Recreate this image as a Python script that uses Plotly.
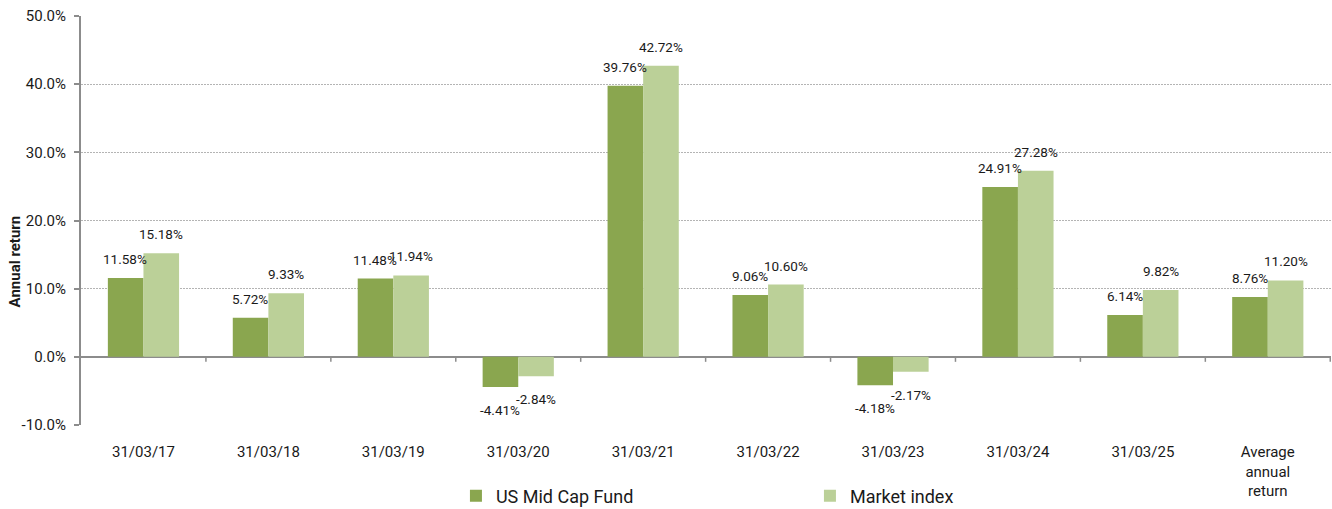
import plotly.graph_objects as go

categories = ["31/03/17", "31/03/18", "31/03/19", "31/03/20", "31/03/21",
              "31/03/22", "31/03/23", "31/03/24", "31/03/25",
              "Average<br>annual<br>return"]
fund_values = [11.58, 5.72, 11.48, -4.41, 39.76, 9.06, -4.18, 24.91, 6.14, 8.76]
index_values = [15.18, 9.33, 11.94, -2.84, 42.72, 10.60, -2.17, 27.28, 9.82, 11.20]
series_names = ["US Mid Cap Fund", "Market index"]
y_ticks = [-10, 0, 10, 20, 30, 40, 50]
y_title = "Annual return"

FUND_COLOR = "#8aa64f"
INDEX_COLOR = "#bbd098"
AXIS_COLOR = "#8c8c8c"
FONT = "Roboto, Arial, sans-serif"
TEXT_COLOR = "#1a1a1a"

fig = go.Figure()
fig.add_trace(go.Bar(x=categories, y=fund_values, name=series_names[0],
                     marker=dict(color=FUND_COLOR, line=dict(width=0))))
fig.add_trace(go.Bar(x=categories, y=index_values, name=series_names[1],
                     marker=dict(color=INDEX_COLOR, line=dict(width=0))))

annotations = []
for vals, shift in ((fund_values, -18), (index_values, 18)):
    for c, v in zip(categories, vals):
        annotations.append(dict(
            x=c, y=v, xref="x", yref="y", text=f"{v:.2f}%", showarrow=False,
            xshift=shift, yshift=19 if v >= 0 else -23,
            font=dict(family=FONT, size=13.5, color=TEXT_COLOR)))

# y-axis title (placed like the original, slightly below the plot's middle)
annotations.append(dict(
    text=f"<b>{y_title}</b>", textangle=-90, showarrow=False,
    xref="paper", yref="paper", x=-0.0528, y=0.40,
    xanchor="center", yanchor="middle",
    font=dict(family=FONT, size=15, color=TEXT_COLOR)))

shapes = []
for i in range(1, len(categories) + 1):
    shapes.append(dict(type="line", xref="x", yref="y", x0=i - 0.5, x1=i - 0.5,
                       ysizemode="pixel", yanchor=0, y0=0, y1=-5,
                       line=dict(color=AXIS_COLOR, width=1.5)))

fig.update_layout(
    width=1332, height=509,
    margin=dict(l=81, r=1, t=16, b=84, autoexpand=False),
    paper_bgcolor="white", plot_bgcolor="white",
    barmode="group", bargap=0.43, bargroupgap=0,
    font=dict(family=FONT, size=15, color=TEXT_COLOR),
    showlegend=True,
    legend=dict(orientation="h", xref="container", yref="container",
                x=0.3423, xanchor="left", y=0.0255, yanchor="middle",
                font=dict(family=FONT, size=18, color=TEXT_COLOR),
                entrywidth=309, entrywidthmode="pixels", itemwidth=30,
                bgcolor="rgba(0,0,0,0)"),
    annotations=annotations,
    shapes=shapes,
)
fig.update_xaxes(showgrid=False, showline=False, ticks="", zeroline=False,
                 automargin=False,
                 ticklabelstandoff=16, tickfont=dict(size=15, color=TEXT_COLOR))
fig.update_yaxes(range=[-10, 50], tickvals=y_ticks,
                 ticktext=[f"{t:.1f}%" for t in y_ticks],
                 automargin=False,
                 showgrid=True, gridcolor="#b4b4b4", griddash="2px,1px", gridwidth=1,
                 zeroline=True, zerolinecolor=AXIS_COLOR, zerolinewidth=2,
                 showline=True, linecolor=AXIS_COLOR, linewidth=2,
                 ticks="outside", ticklen=5, tickcolor=AXIS_COLOR, tickwidth=1.5,
                 ticklabelstandoff=5,
                 tickfont=dict(size=15, color=TEXT_COLOR))

fig.write_html("out.html", config={"displayModeBar": False},
               post_script="document.body.style.margin='0';"
                           "document.body.style.overflow='hidden';")
